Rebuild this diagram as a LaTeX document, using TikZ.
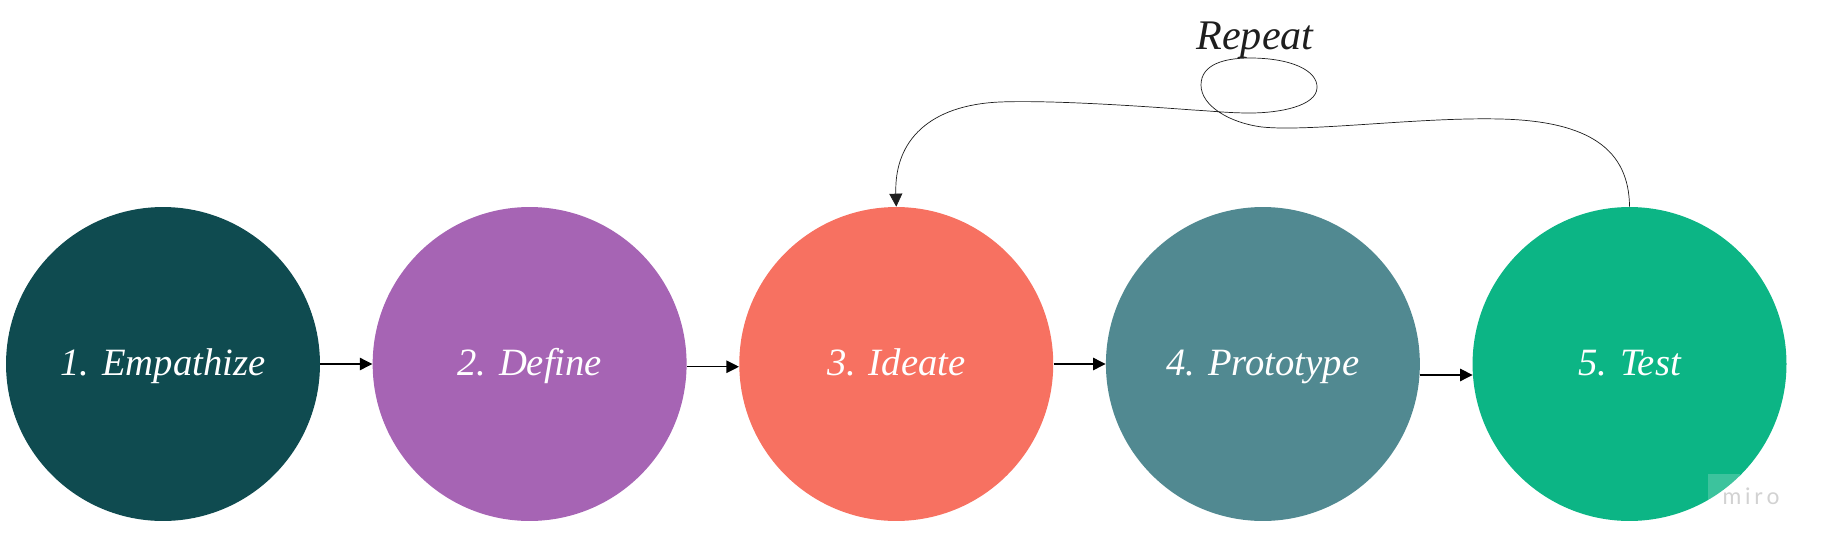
\documentclass[tikz,border=0pt]{standalone}
\usepackage{fontspec}
\setmainfont{Liberation Serif}
\newfontfamily\logofont{Lato}
\usepackage{tikz}
\usetikzlibrary{arrows.meta,positioning}

\definecolor{empcol}{HTML}{0F4B50}
\definecolor{defcol}{HTML}{A664B4}
\definecolor{ideacol}{HTML}{F77161}
\definecolor{protocol}{HTML}{518991}
\definecolor{testcol}{HTML}{0CB585}
\definecolor{inkcol}{HTML}{1E1E1E}

\begin{document}
\begin{tikzpicture}[
    x=0.02cm, y=-0.02cm,
    node distance=1.04cm,
    phase/.style={circle, minimum size=6.28cm, inner sep=0pt, text=white, text height=16pt, text depth=2.5pt, font=\itshape\fontsize{22}{26}\selectfont},
    arrow/.style={-{Triangle[length=0.25cm,width=0.25cm]}, line width=0.6pt},
    loopline/.style={-{Triangle[length=0.26cm,width=0.26cm]}, line width=0.4pt, inkcol}
]
    \useasboundingbox (0,0) rectangle (1822,548);

    \node[phase, fill=empcol] (emp) at (163,364) {1. Empathize};
    \node[phase, fill=defcol, right=of emp] (def) {2. Define};
    \node[phase, fill=ideacol, right=of def] (idea) {3. Ideate};
    \node[phase, fill=protocol, right=of idea] (proto) {4. Prototype};
    \node[phase, fill=testcol, right=of proto] (test) {5. Test};

    \draw[arrow] (emp.0) -- (def.180);
    \draw[arrow] (def.-1.5) -- (idea.181.5);
    \draw[arrow] (idea.-0.5) -- (proto.180.5);
    \draw[arrow] (proto.-4.4) -- (test.184.4);

    \node[inkcol, font=\itshape\fontsize{24}{28}\selectfont] (rep) at (1255,40) {Repeat};
    \draw[loopline] (test.north)
        .. controls (1629,150) and (1590,121) .. (1500,119)
        .. controls (1420,117) and (1310,132) .. (1262,127)
        .. controls (1230,123) and (1201,106) .. (1201,85)
        .. controls (1201,64) and (1225,58) .. (1250,58)
        .. controls (1290,58) and (1318,70) .. (1317,88)
        .. controls (1316,106) and (1280,113) .. (1250,113)
        .. controls (1228,113) and (1212,111) .. (1193,110)
        .. controls (1140,106) and (1050,100) .. (1000,102)
        .. controls (930,105) and (894,140) .. (idea.north);

    \node[fill=white, fill opacity=0.2, minimum size=0.64cm, inner sep=0pt] (logobox) at (1724,490) {};
    \node[text=gray!35, font=\logofont\fontsize{13}{15}\selectfont] (logo) at (1751,496) {m\,i\,r\,o};
\end{tikzpicture}
\end{document}
